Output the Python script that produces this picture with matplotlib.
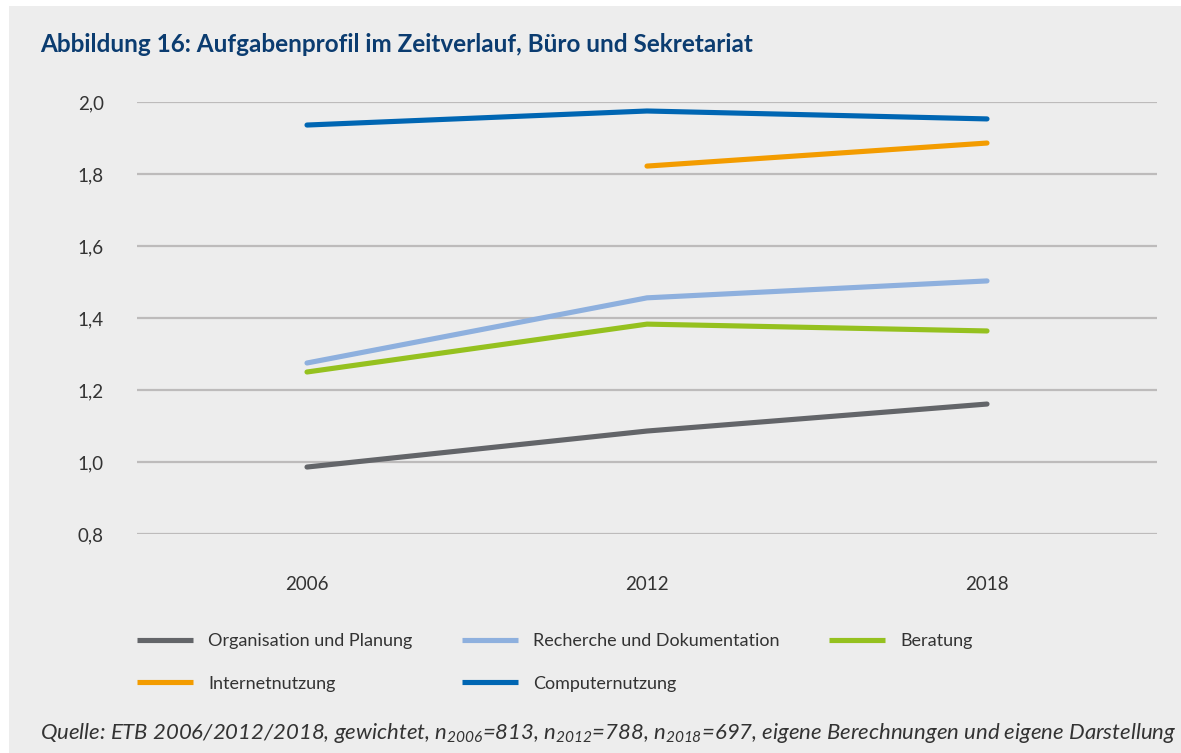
import matplotlib
matplotlib.use("Agg")
import matplotlib.pyplot as plt
from matplotlib.patches import Rectangle
from matplotlib.ticker import FuncFormatter, FixedLocator
import numpy as np

plt.rcParams['font.family'] = ['Lato', 'DejaVu Sans']
plt.rcParams['mathtext.fontset'] = 'custom'
plt.rcParams['mathtext.rm'] = 'Lato:italic'
plt.rcParams['mathtext.it'] = 'Lato:italic'

years = ["2006", "2012", "2018"]
organisation = [0.986, 1.086, 1.161]
recherche = [1.275, 1.456, 1.503]
beratung = [1.250, 1.383, 1.364]
internet = [np.nan, 1.822, 1.886]
computer = [1.936, 1.975, 1.953]

series_names = ["Organisation und Planung", "Recherche und Dokumentation", "Beratung",
                "Internetnutzung", "Computernutzung"]
series_values = [organisation, recherche, beratung, internet, computer]
series_colors = ["#636569", "#8EB0DE", "#95C11F", "#F39C00", "#0066B3"]

yticks = [0.8, 1.0, 1.2, 1.4, 1.6, 1.8, 2.0]

W, H = 1181, 753
fig = plt.figure(figsize=(W / 100, H / 100), dpi=100, facecolor="white")
bg = "#EDEDED"
fig.patches.append(Rectangle((9 / W, 0), 1 - 9 / W, 1 - 6 / H, transform=fig.transFigure,
                             facecolor=bg, edgecolor="none", zorder=-10))

left, right = 137 / W, 1157 / W
bottom, top = 1 - 534 / H, 1 - 102 / H
ax = fig.add_axes([left, bottom, right - left, top - bottom])
ax.set_facecolor("none")
ax.set_zorder(1)

x = np.arange(len(years))
handles = {}
for name, vals, col in zip(series_names, series_values, series_colors):
    ln, = ax.plot(x, vals, color=col, lw=3.7, solid_capstyle="round", solid_joinstyle="round",
                  clip_on=False, zorder=3, label=name)
    handles[name] = ln

ax.set_xlim(-0.5, 2.5)
ax.set_ylim(0.8, 2.0)
ax.yaxis.set_major_locator(FixedLocator(yticks))
ax.yaxis.set_major_formatter(FuncFormatter(lambda v, p: f"{v:.1f}".replace(".", ",")))
ax.set_xticks(x)
ax.set_xticklabels(years)
ax.grid(axis="y", color="#BDBBBB", lw=1.6, zorder=1)
ax.set_axisbelow(True)
for s in ax.spines.values():
    s.set_visible(False)
ax.tick_params(axis="both", length=0, colors="#333333", labelsize=13.5)
ax.tick_params(axis="y", pad=24)
ax.tick_params(axis="x", pad=30)

fig.text(40 / W, 1 - 45 / H, "Abbildung 16: Aufgabenprofil im Zeitverlauf, Büro und Sekretariat",
         fontsize=17.5, fontweight="bold", color="#0B3C70", va="center", ha="left")

order = ["Organisation und Planung", "Internetnutzung", "Recherche und Dokumentation",
         "Computernutzung", "Beratung"]
leg = fig.legend([handles[n] for n in order], order, loc="upper left",
                 bbox_to_anchor=(137 / W, 1 - 633 / H), ncol=3, frameon=False,
                 fontsize=13, handlelength=3.1, handletextpad=0.83, columnspacing=2.75,
                 labelspacing=1.48, borderpad=0, borderaxespad=0)
for t in leg.get_texts():
    t.set_color("#333333")
for l in leg.get_lines():
    l.set_linewidth(3.7)
    l.set_solid_capstyle("butt")

fig.text(40 / W, 1 - 733 / H,
         r"Quelle: ETB 2006/2012/2018, gewichtet, $n_{2006}$=813, $n_{2012}$=788, $n_{2018}$=697, eigene Berechnungen und eigene Darstellung",
         fontsize=15.9, style="italic", color="#333333", va="center", ha="left")

fig.savefig("out.png", dpi=100, facecolor="white")
